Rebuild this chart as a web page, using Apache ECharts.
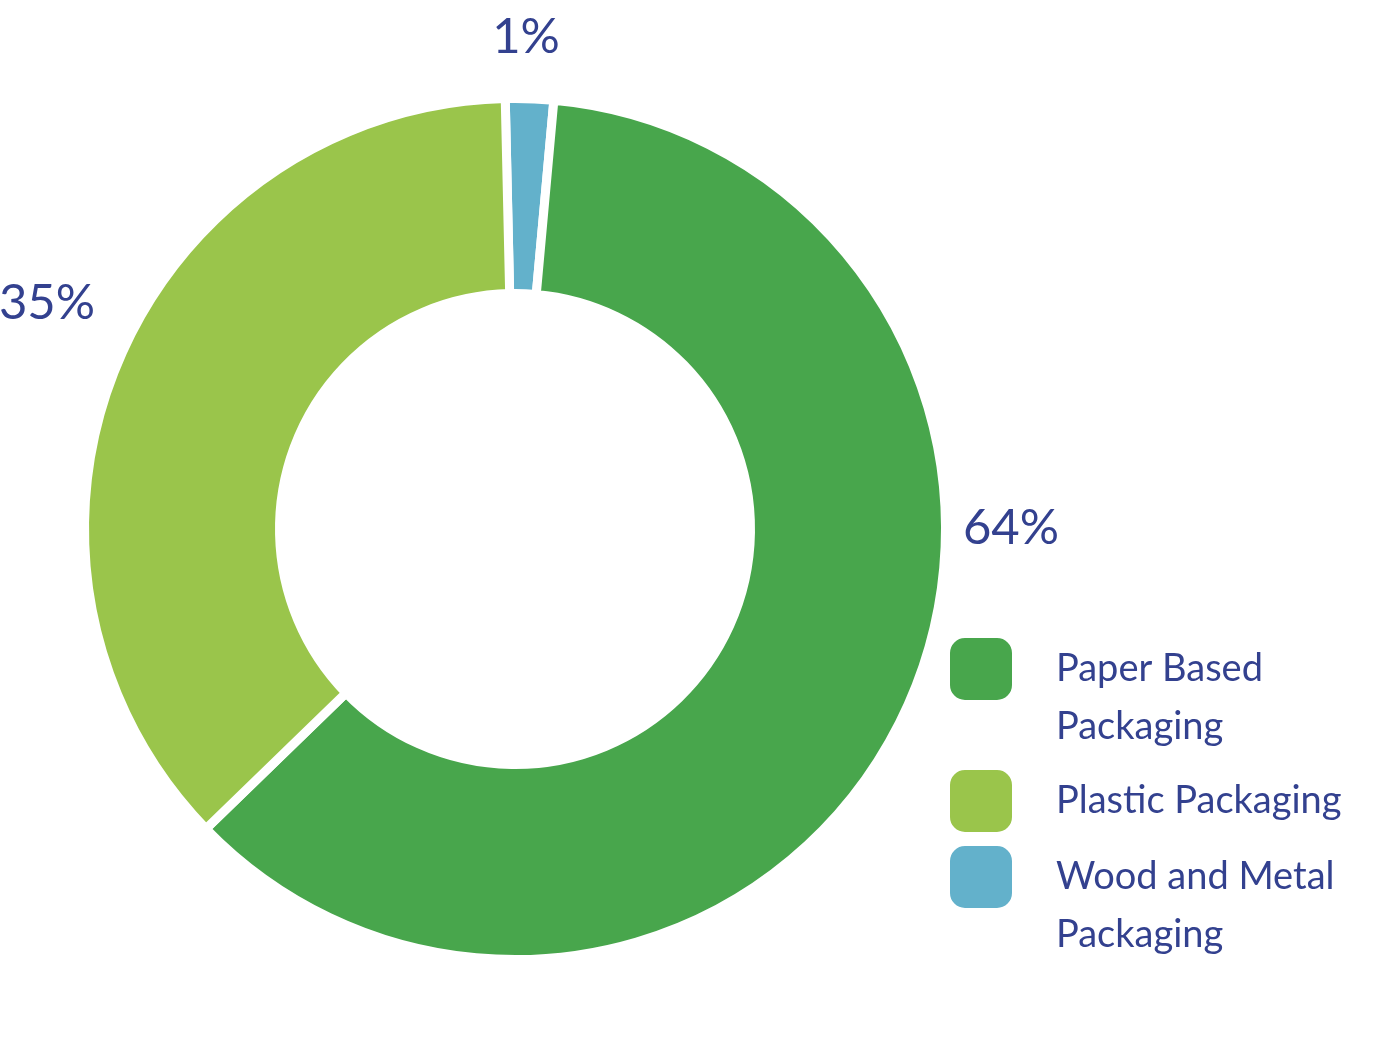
<!DOCTYPE html>
<html>
<head>
<meta charset="utf-8">
<script src="https://cdn.jsdelivr.net/npm/echarts@6/dist/echarts.min.js"></script>
<style>
html,body{margin:0;padding:0;background:#fff;}
#chart{width:1395px;height:1053px;}
</style>
</head>
<body>
<div id="chart"></div>
<script>
// Data (drawn order: clockwise from top)
const categories = ['Wood and Metal Packaging', 'Paper Based Packaging', 'Plastic Packaging'];
const shares = [1.8, 61.3, 36.9];          // slice sizes
const labelTexts = ['1%', '64%', '35%'];   // printed labels
const colors = ['#63B1CB', '#48A64C', '#9AC54B'];
const legendOrder = ['Paper Based Packaging', 'Plastic Packaging', 'Wood and Metal Packaging'];
const legendTexts = {
  'Paper Based Packaging': ' \nPaper Based\nPackaging',
  'Plastic Packaging': 'Plastic Packaging',
  'Wood and Metal Packaging': ' \nWood and Metal\nPackaging'
};

const textColor = '#33418F';
const font = 'Lato, "Open Sans", sans-serif';
const labelPos = [[526, 37], [1011, 528], [47, 303]];
const legendTops = [582, 768, 790];

const chart = echarts.init(document.getElementById('chart'), null, {renderer: 'canvas'});

const legends = legendOrder.map((name, i) => ({
  data: [name],
  orient: 'vertical',
  left: 948,
  top: legendTops[i],
  padding: 0,
  itemWidth: 64,
  itemHeight: 64,
  itemGap: 0,
  icon: 'roundRect',
  selectedMode: false,
  formatter: n => legendTexts[n],
  textStyle: {
    color: textColor,
    fontFamily: font,
    fontSize: 38,
    lineHeight: 58,
    padding: [0, 0, 0, 38]
  }
}));

chart.setOption({
  animation: false,
  color: colors,
  legend: legends,
  series: [{
    type: 'pie',
    center: [515, 529],
    radius: [235.5, 430.5],
    startAngle: 91.3,
    clockwise: true,
    avoidLabelOverlap: false,
    itemStyle: {borderColor: '#fff', borderWidth: 9},
    label: {
      show: true,
      position: 'outside',
      formatter: p => labelTexts[p.dataIndex],
      color: textColor,
      fontFamily: font,
      fontSize: 49
    },
    labelLine: {show: false},
    emphasis: {disabled: true},
    labelLayout: function (p) {
      const pos = labelPos[p.dataIndex];
      return {x: pos[0], y: pos[1], align: 'center', verticalAlign: 'middle'};
    },
    data: categories.map((c, i) => ({name: c, value: shares[i]}))
  }]
});
</script>
</body>
</html>
